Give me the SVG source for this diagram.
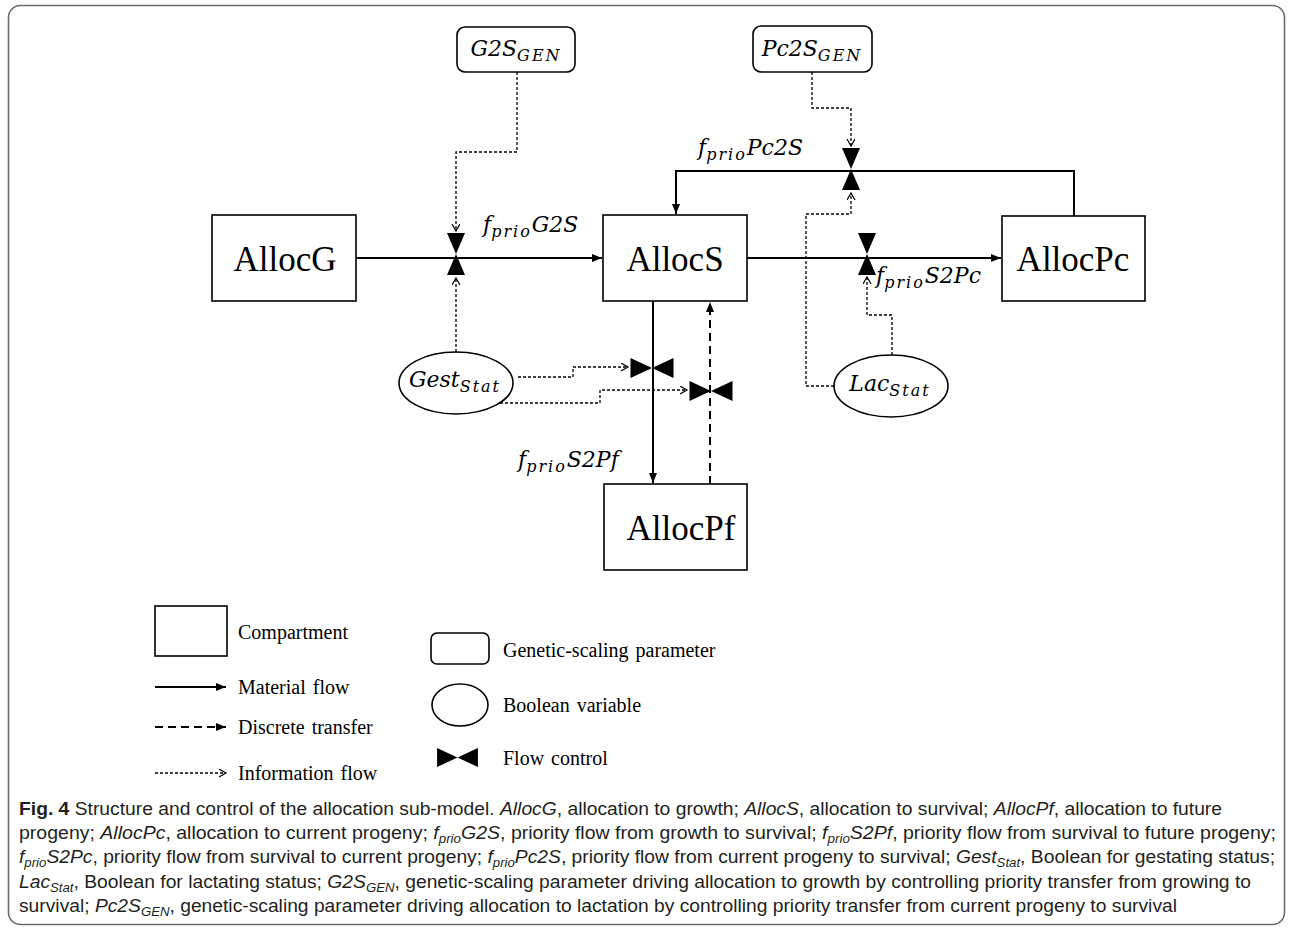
<svg xmlns="http://www.w3.org/2000/svg" width="1293" height="933" viewBox="0 0 1293 933">
<style>
.box{fill:#fff;stroke:#000;stroke-width:1.6}
.nl{font-family:"Liberation Serif",serif;font-size:35px;fill:#000}
.m{font-family:"DejaVu Serif",serif;font-style:italic;font-size:22px;fill:#000}
.sub{font-size:16px;letter-spacing:2px}
.mat{fill:none;stroke:#000;stroke-width:2}
.dis{fill:none;stroke:#000;stroke-width:2;stroke-dasharray:8,5}
.inf{fill:none;stroke:#000;stroke-width:1.3;stroke-dasharray:3,2}
.lg{font-family:"Liberation Serif",serif;font-size:20px;word-spacing:2px;fill:#000}
.cap{font-family:"Liberation Sans",sans-serif;font-size:17.5px;fill:#231f20}
.cs{font-size:12px}
.valve{fill:#000}
</style>
<defs>
<marker id="af" markerUnits="userSpaceOnUse" markerWidth="12" markerHeight="10" refX="10" refY="4" orient="auto"><path d="M0,0 L10,4 L0,8 Z" fill="#000"/></marker>
<marker id="ao" markerUnits="userSpaceOnUse" markerWidth="10" markerHeight="10" refX="7" refY="4" orient="auto"><path d="M0,0 L7,4 L0,8" fill="none" stroke="#000" stroke-width="1.2"/></marker>
<path id="vv" d="M-9,-21 L9,-21 L0,0 Z M-9,21 L9,21 L0,0 Z"/>
<path id="vh" d="M-21.5,-10 L-21.5,10 L0,0 Z M21.5,-10 L21.5,10 L0,0 Z"/>
</defs>
<rect x="8.5" y="5.5" width="1276" height="919" rx="12" fill="#fff" stroke="#6b6b6b" stroke-width="1.6"/>

<g id="connectors">
<path class="mat" d="M356,258 H602" marker-end="url(#af)"/>
<path class="mat" d="M747,258 H1001" marker-end="url(#af)"/>
<path class="mat" d="M1074,216 V171 H676 V214" marker-end="url(#af)"/>
<path class="mat" d="M653,301 V483" marker-end="url(#af)"/>
<path class="dis" d="M710,484 V302" marker-end="url(#af)"/>
<path class="inf" d="M517,72 V152 H456 V231" marker-end="url(#ao)"/>
<path class="inf" d="M812,72 V108 H851 V146" marker-end="url(#ao)"/>
<path class="inf" d="M456,352 V278" marker-end="url(#ao)"/>
<path class="inf" d="M518,377 H573 V367 H628" marker-end="url(#ao)"/>
<path class="inf" d="M500,403 H600 V390 H687" marker-end="url(#ao)"/>
<path class="inf" d="M892,355 V315 H867 V277" marker-end="url(#ao)"/>
<path class="inf" d="M834,386 H806 V214 H851 V193" marker-end="url(#ao)"/>
</g>

<g id="valves">
<use href="#vv" class="valve" x="456" y="254"/>
<use href="#vv" class="valve" x="851" y="169"/>
<use href="#vv" class="valve" x="867" y="254"/>
<use href="#vh" class="valve" x="652" y="368"/>
<use href="#vh" class="valve" x="711" y="391"/>
</g>

<g id="flow-labels">
<text class="m" x="483" y="232">f<tspan class="sub" dy="5">prio</tspan><tspan dy="-5">G2S</tspan></text>
<text class="m" x="698" y="155">f<tspan class="sub" dy="5">prio</tspan><tspan dy="-5">Pc2S</tspan></text>
<text class="m" x="876" y="283">f<tspan class="sub" dy="5">prio</tspan><tspan dy="-5">S2Pc</tspan></text>
<text class="m" x="518" y="467">f<tspan class="sub" dy="5">prio</tspan><tspan dy="-5">S2Pf</tspan></text>
</g>

<g id="AllocG"><rect class="box" x="212" y="215" width="144" height="86"/><text class="nl" x="285" y="271" text-anchor="middle">AllocG</text></g>
<g id="AllocS"><rect class="box" x="603" y="215" width="144" height="86"/><text class="nl" x="675" y="271" text-anchor="middle">AllocS</text></g>
<g id="AllocPc"><rect class="box" x="1002" y="216" width="143" height="85"/><text class="nl" x="1073" y="271" text-anchor="middle">AllocPc</text></g>
<g id="AllocPf"><rect class="box" x="604" y="484" width="143" height="86"/><text class="nl" x="681" y="540" text-anchor="middle">AllocPf</text></g>

<g id="G2S_GEN"><rect class="box" x="457" y="27" width="118" height="45" rx="8"/><text class="m" x="516" y="56" text-anchor="middle">G2S<tspan class="sub" dy="5">GEN</tspan></text></g>
<g id="Pc2S_GEN"><rect class="box" x="753" y="26" width="119" height="46" rx="8"/><text class="m" x="812" y="56" text-anchor="middle">Pc2S<tspan class="sub" dy="5">GEN</tspan></text></g>

<g id="Gest_Stat"><ellipse class="box" cx="456" cy="383" rx="57" ry="31"/><text class="m" x="455" y="387" text-anchor="middle">Gest<tspan class="sub" dy="5">Stat</tspan></text></g>
<g id="Lac_Stat"><ellipse class="box" cx="891" cy="386" rx="57" ry="31"/><text class="m" x="890" y="391" text-anchor="middle">Lac<tspan class="sub" dy="5">Stat</tspan></text></g>

<g id="legend">
<rect class="box" x="155" y="606" width="72" height="50"/>
<text class="lg" x="238" y="639">Compartment</text>
<path class="mat" d="M155,687 H226" marker-end="url(#af)"/>
<text class="lg" x="238" y="694">Material flow</text>
<path class="dis" d="M155,727 H226" stroke-dasharray="9,6" marker-end="url(#af)"/>
<text class="lg" x="238" y="734">Discrete transfer</text>
<path class="inf" d="M155,773 H226" stroke-dasharray="3,1.5" marker-end="url(#ao)"/>
<text class="lg" x="238" y="780">Information flow</text>
<rect class="box" x="431" y="633" width="58" height="31" rx="6"/>
<text class="lg" x="503" y="657">Genetic-scaling parameter</text>
<ellipse class="box" cx="460" cy="705" rx="28" ry="21"/>
<text class="lg" x="503" y="712">Boolean variable</text>
<use href="#vh" class="valve" x="457.5" y="757.5" transform="translate(457.5,757.5) scale(0.95) translate(-457.5,-757.5)"/>
<text class="lg" x="503" y="765">Flow control</text>
</g>

<g id="caption">
<text class="cap" x="19" y="815" textLength="1203" lengthAdjust="spacingAndGlyphs"><tspan font-weight="bold">Fig. 4</tspan>  Structure and control of the allocation sub-model. <tspan font-style="italic">AllocG</tspan>, allocation to growth; <tspan font-style="italic">AllocS</tspan>, allocation to survival; <tspan font-style="italic">AllocPf</tspan>, allocation to future</text>
<text class="cap" x="19" y="839" textLength="1257" lengthAdjust="spacingAndGlyphs">progeny; <tspan font-style="italic">AllocPc</tspan>, allocation to current progeny; <tspan font-style="italic">f</tspan><tspan class="cs" font-style="italic" dy="4">prio</tspan><tspan font-style="italic" dy="-4">G2S</tspan>, priority flow from growth to survival; <tspan font-style="italic">f</tspan><tspan class="cs" font-style="italic" dy="4">prio</tspan><tspan font-style="italic" dy="-4">S2Pf</tspan>, priority flow from survival to future progeny;</text>
<text class="cap" x="19" y="863" textLength="1256" lengthAdjust="spacingAndGlyphs"><tspan font-style="italic">f</tspan><tspan class="cs" font-style="italic" dy="4">prio</tspan><tspan font-style="italic" dy="-4">S2Pc</tspan>, priority flow from survival to current progeny; <tspan font-style="italic">f</tspan><tspan class="cs" font-style="italic" dy="4">prio</tspan><tspan font-style="italic" dy="-4">Pc2S</tspan>, priority flow from current progeny to survival; <tspan font-style="italic">Gest</tspan><tspan class="cs" font-style="italic" dy="4">Stat</tspan><tspan dy="-4">, Boolean for gestating status;</tspan></text>
<text class="cap" x="19" y="888" textLength="1232" lengthAdjust="spacingAndGlyphs"><tspan font-style="italic">Lac</tspan><tspan class="cs" font-style="italic" dy="4">Stat</tspan><tspan dy="-4">, Boolean for lactating status; </tspan><tspan font-style="italic">G2S</tspan><tspan class="cs" font-style="italic" dy="4">GEN</tspan><tspan dy="-4">, genetic-scaling parameter driving allocation to growth by controlling priority transfer from growing to</tspan></text>
<text class="cap" x="19" y="912" textLength="1158" lengthAdjust="spacingAndGlyphs">survival; <tspan font-style="italic">Pc2S</tspan><tspan class="cs" font-style="italic" dy="4">GEN</tspan><tspan dy="-4">, genetic-scaling parameter driving allocation to lactation by controlling priority transfer from current progeny to survival</tspan></text>
</g>
</svg>
